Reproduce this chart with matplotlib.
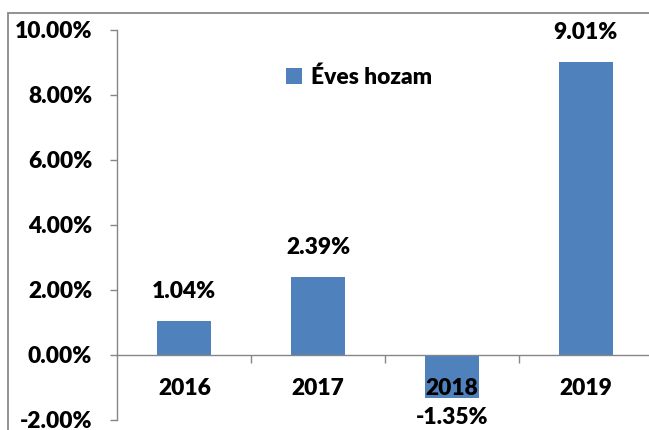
import matplotlib.pyplot as plt
import numpy as np
from matplotlib.patches import Rectangle
from matplotlib.ticker import FixedLocator, NullFormatter

years = ['2016', '2017', '2018', '2019']
returns = [1.04, 2.39, -1.35, 9.01]
label_txt = ['1.04%', '2.39%', '-1.35%', '9.01%']
yticks = [-2, 0, 2, 4, 6, 8, 10]
series_name = 'Éves hozam'

blue = '#4F81BD'
gray = '#868686'
fs = 16.4
fw = 'heavy'

plt.rcParams['font.family'] = ['Lato', 'DejaVu Sans']
plt.rcParams['font.weight'] = fw

W, H = 649, 430
fig = plt.figure(figsize=(W / 100, H / 100), dpi=100)
ax = fig.add_axes([117.5 / W, (H - 419.5) / H, 535 / W, 390 / H])

x = np.arange(len(years))
bars = ax.bar(x, returns, width=0.405, color=blue, zorder=2, label=series_name)
ax.set_axisbelow(False)

ax.set_xlim(-0.5, 3.5)
ax.set_ylim(-2, 10)

for s in ['top', 'right']:
    ax.spines[s].set_visible(False)
ax.spines['left'].set_color(gray)
ax.spines['bottom'].set_color(gray)
ax.spines['bottom'].set_position(('data', 0))
ax.spines['left'].set_linewidth(1)
ax.spines['bottom'].set_linewidth(1)

ax.set_yticks(yticks)
ax.set_yticklabels(['%.2f%%' % v for v in yticks], fontsize=fs, fontweight=fw)
ax.tick_params(axis='y', length=5.2, width=1, color=gray, pad=13)

ax.set_xticks(x)
ax.set_xticklabels(years, fontsize=fs, fontweight=fw)
ax.tick_params(axis='x', which='major', length=0, pad=17)
ax.xaxis.set_minor_locator(FixedLocator([0.5, 1.5, 2.5]))
ax.xaxis.set_minor_formatter(NullFormatter())
ax.tick_params(axis='x', which='minor', length=6, width=1, color=gray, direction='out')

for b, v, t in zip(bars, returns, label_txt):
    if v >= 0:
        ax.annotate(t, (b.get_x() + b.get_width() / 2, v), xytext=(0, 13.5),
                    textcoords='offset points', ha='center', va='bottom',
                    fontsize=fs, fontweight=fw)
    else:
        ax.annotate(t, (b.get_x() + b.get_width() / 2, v), xytext=(0, -6),
                    textcoords='offset points', ha='center', va='top',
                    fontsize=fs, fontweight=fw, zorder=5)

leg = ax.legend(loc='center', bbox_to_anchor=(359 / W, 1 - 77 / H),
                bbox_transform=fig.transFigure, frameon=False,
                handlelength=0.7, handleheight=0.7, handletextpad=0.4,
                prop={'size': fs, 'weight': fw})

fig.patches.append(Rectangle((8 / W, -0.1), 2, 1 - 13 / H + 0.1,
                             transform=fig.transFigure, fill=False,
                             edgecolor='#898989', linewidth=1.3))

fig.savefig('out.png', dpi=100)
